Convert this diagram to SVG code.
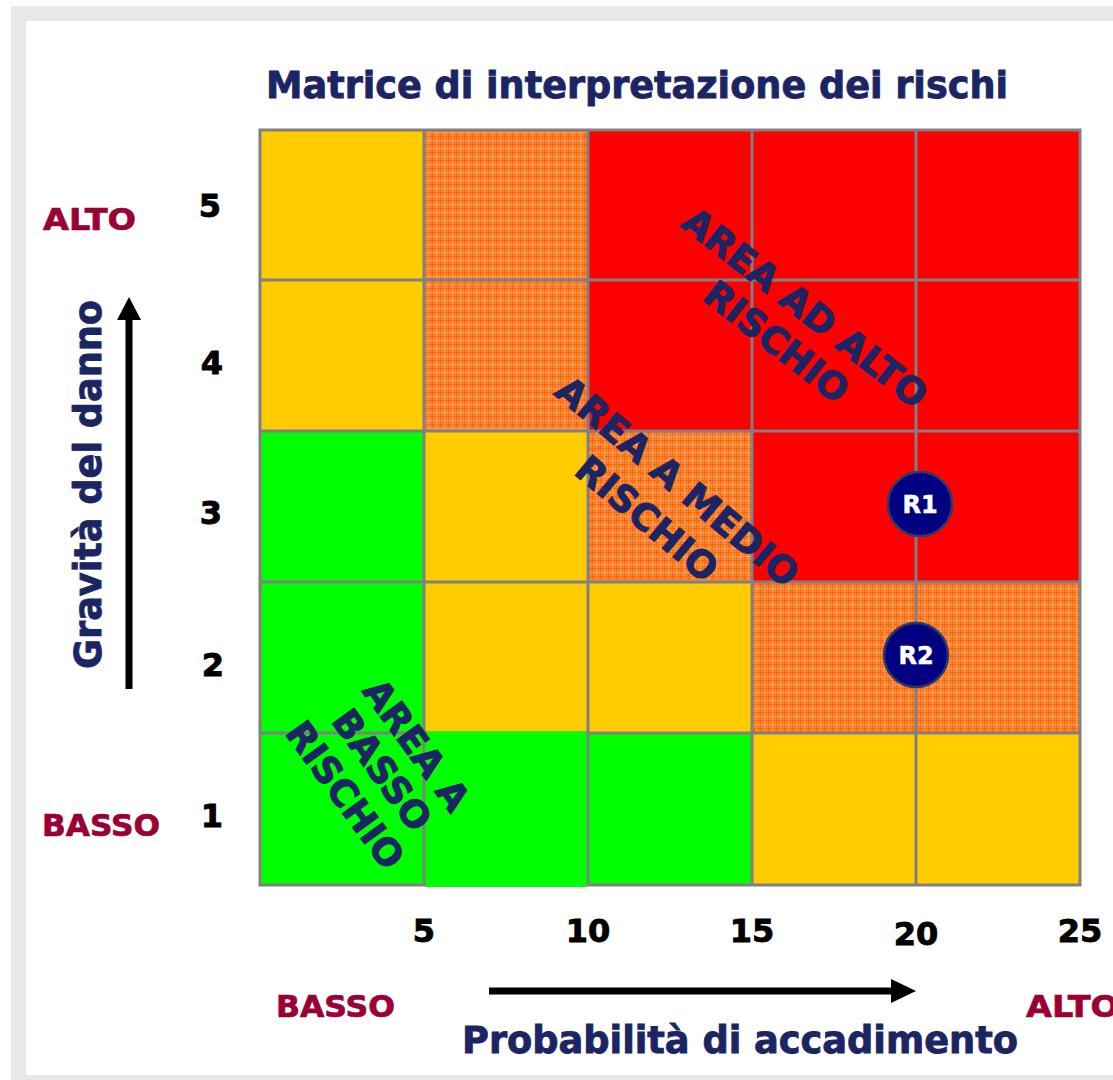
<svg xmlns="http://www.w3.org/2000/svg" width="1113" height="1080" viewBox="0 0 1113 1080">
<defs>
<pattern id="hatch" width="8" height="8" patternUnits="userSpaceOnUse">
<rect width="8" height="8" fill="#FF7F2A"/>
<rect x="0" y="0" width="1" height="8" fill="#FF6600"/>
<rect x="0" y="0" width="8" height="1" fill="#FF6600"/>
<rect x="4" y="0" width="1" height="8" fill="#FF9C5C"/>
<rect x="0" y="4" width="8" height="1" fill="#FF9C5C"/>
<rect x="2" y="2" width="1" height="1" fill="#E85A00"/>
</pattern>
</defs>
<style>
.y{fill:#FFCC00}.r{fill:#FF0000}.g{fill:#00FF00}.o{fill:url(#hatch)}
.gl{stroke:#808080;stroke-width:3;fill:none}
.navy{font-family:"DejaVu Sans",Verdana,sans-serif;font-weight:bold;fill:#1B2563;stroke:#1B2563;stroke-width:0.9}
.mar{font-family:"DejaVu Sans",Verdana,sans-serif;font-weight:bold;fill:#990033;stroke:#990033;stroke-width:0.7;font-size:31px}
.num{font-family:"DejaVu Sans",Verdana,sans-serif;font-weight:bold;fill:#000;stroke:#000;stroke-width:0.9;font-size:32px;text-anchor:middle}
.diag{font-family:"DejaVu Sans",Verdana,sans-serif;font-weight:bold;fill:#1B2563;stroke:#1B2563;stroke-width:1;font-size:37px;text-anchor:middle}
.rc{fill:#000080;stroke:#2B3A6B;stroke-width:2.5}
.rt{font-family:"DejaVu Sans",Verdana,sans-serif;font-weight:bold;fill:#fff;stroke:#fff;stroke-width:0.5;font-size:24px;text-anchor:middle}
</style>
<rect x="0" y="0" width="1113" height="1080" fill="#fff"/>
<rect x="11" y="6" width="1102" height="1074" fill="#E8E8E8"/>
<rect x="26" y="21" width="1087" height="1054" fill="#fff"/>
<text class="navy" x="266" y="98" font-size="38" textLength="742" lengthAdjust="spacingAndGlyphs">Matrice di interpretazione dei rischi</text>
<g id="matrix">
<g id="row5">
<rect class="y" x="260" y="130" width="164" height="150"/>
<rect class="o" x="424" y="130" width="164" height="150"/>
<rect class="r" x="588" y="130" width="164" height="150"/>
<rect class="r" x="752" y="130" width="164" height="150"/>
<rect class="r" x="916" y="130" width="164" height="150"/>
</g>
<g id="row4">
<rect class="y" x="260" y="280" width="164" height="151"/>
<rect class="o" x="424" y="280" width="164" height="151"/>
<rect class="r" x="588" y="280" width="164" height="151"/>
<rect class="r" x="752" y="280" width="164" height="151"/>
<rect class="r" x="916" y="280" width="164" height="151"/>
</g>
<g id="row3">
<rect class="g" x="260" y="431" width="164" height="151"/>
<rect class="y" x="424" y="431" width="164" height="151"/>
<rect class="o" x="588" y="431" width="164" height="151"/>
<rect class="r" x="752" y="431" width="164" height="151"/>
<rect class="r" x="916" y="431" width="164" height="151"/>
</g>
<g id="row2">
<rect class="g" x="260" y="582" width="164" height="151"/>
<rect class="y" x="424" y="582" width="164" height="151"/>
<rect class="y" x="588" y="582" width="164" height="151"/>
<rect class="o" x="752" y="582" width="164" height="151"/>
<rect class="o" x="916" y="582" width="164" height="151"/>
</g>
<g id="row1">
<rect class="g" x="260" y="733" width="164" height="152"/>
<rect class="g" x="424" y="733" width="164" height="152"/>
<rect class="g" x="588" y="733" width="164" height="152"/>
<rect class="y" x="752" y="733" width="164" height="152"/>
<rect class="y" x="916" y="733" width="164" height="152"/>
</g>
<g id="gridlines" class="gl">
<path d="M424,130V885M588,130V885M752,130V885M916,130V885"/>
<path d="M260,280H1080M260,431H1080M260,582H1080M260,733H1080"/>
<rect x="260" y="130" width="820" height="755"/>
</g>
<rect class="g" x="425.5" y="731.5" width="161" height="155.5"/>
</g>
<g id="labels-diag">
<text class="diag" transform="translate(797,318) rotate(38)">AREA AD ALTO</text>
<text class="diag" transform="translate(768.5,352) rotate(38)">RISCHIO</text>
<text class="diag" transform="translate(669,491.5) rotate(40)">AREA A MEDIO</text>
<text class="diag" transform="translate(638.6,528.5) rotate(40)">RISCHIO</text>
<text class="diag" transform="translate(406,752.6) rotate(54)">AREA A</text>
<text class="diag" transform="translate(371.5,777.6) rotate(54)">BASSO</text>
<text class="diag" transform="translate(334.5,802.6) rotate(54)">RISCHIO</text>
</g>
<g id="R1">
<circle class="rc" cx="920" cy="504" r="32"/>
<text class="rt" x="920" y="513">R1</text>
</g>
<g id="R2">
<circle class="rc" cx="916" cy="655" r="32"/>
<text class="rt" x="916" y="664">R2</text>
</g>
<g id="y-axis">
<text class="mar" x="43" y="230" textLength="93" lengthAdjust="spacingAndGlyphs">ALTO</text>
<text class="mar" x="42" y="836" textLength="118" lengthAdjust="spacingAndGlyphs">BASSO</text>
<text class="num" x="210" y="217">5</text>
<text class="num" x="212" y="374">4</text>
<text class="num" x="211" y="524">3</text>
<text class="num" x="213" y="676">2</text>
<text class="num" x="212" y="827">1</text>
<text class="navy" font-size="37" text-anchor="middle" textLength="369" lengthAdjust="spacingAndGlyphs" transform="translate(101,484.5) rotate(-90)">Gravità del danno</text>
</g>
<g id="x-axis">
<text class="num" x="424" y="942">5</text>
<text class="num" x="588" y="942">10</text>
<text class="num" x="752" y="942">15</text>
<text class="num" x="916" y="945">20</text>
<text class="num" x="1080" y="942">25</text>
<text class="mar" x="276" y="1017" textLength="119" lengthAdjust="spacingAndGlyphs">BASSO</text>
<text class="mar" x="1026" y="1017" textLength="93" lengthAdjust="spacingAndGlyphs">ALTO</text>
<text class="navy" x="462" y="1053" font-size="37" textLength="556" lengthAdjust="spacingAndGlyphs">Probabilità di accadimento</text>
</g>
<g id="connectors">
<line x1="129" y1="689" x2="129" y2="318" stroke="#000" stroke-width="7"/>
<polygon points="129,297 117,320 141,320" fill="#000"/>
<line x1="489" y1="991" x2="893" y2="991" stroke="#000" stroke-width="7"/>
<polygon points="916,991 891,979 891,1003" fill="#000"/>
</g>
</svg>
